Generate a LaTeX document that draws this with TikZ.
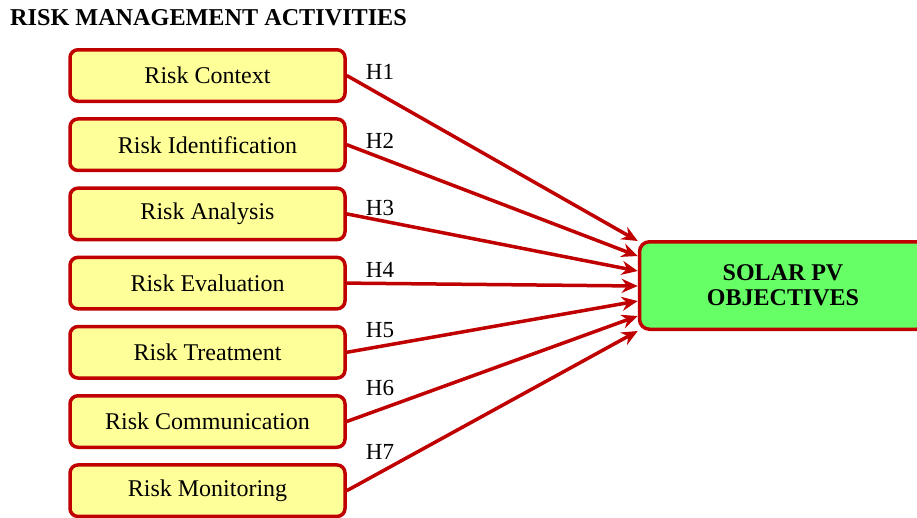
\documentclass[tikz,border=0pt]{standalone}
\usepackage{fontspec}
\setmainfont{Liberation Serif}
\usetikzlibrary{arrows.meta,calc}

\definecolor{boxred}{HTML}{C00000}
\definecolor{riskfill}{HTML}{FFFF99}
\definecolor{goalfill}{HTML}{66FF66}

\tikzset{
  activity/.style={draw=boxred, fill=riskfill, line width=3.5pt, rounded corners=8pt,
    minimum width=275pt, minimum height=51.5pt, inner sep=0pt,
    font=\fontsize{24}{28}\selectfont},
  goal/.style={draw=boxred, fill=goalfill, line width=3.5pt, rounded corners=10pt,
    minimum width=287pt, minimum height=87.5pt, inner sep=0pt, align=center,
    font=\fontsize{24}{25}\selectfont\bfseries},
  link/.style={draw=boxred, line width=3.5pt, -{Stealth[length=16pt,width=14pt]}},
  hyp/.style={inner sep=0pt, font=\fontsize{23}{26}\selectfont},
}

\begin{document}
\begin{tikzpicture}[x=1pt, y=-1pt]
  \useasboundingbox (0,0) rectangle (917,517);
  \clip (0,0) rectangle (917,517);

  % heading
  \node[anchor=base west, inner sep=0pt, font=\fontsize{24.2}{28}\selectfont\bfseries]
    (title) at (10,25) {RISK MANAGEMENT ACTIVITIES};

  % risk management activities
  \node[activity] (a1) at (207.5, 75.5) {Risk Context};
  \node[activity] (a2) at (207.5,144.7) {Risk Identification};
  \node[activity] (a3) at (207.5,213.9) {Risk Analysis};
  \node[activity] (a4) at (207.5,283.1) {Risk Evaluation};
  \node[activity] (a5) at (207.5,352.3) {Risk Treatment};
  \node[activity] (a6) at (207.5,421.5) {Risk Communication};
  \node[activity] (a7) at (207.5,490.7) {Risk Monitoring};

  % objectives
  \node[goal] (obj) at (783,285.5) {SOLAR PV\\OBJECTIVES};

  % arrival points along the left side of the objectives box
  \coordinate (e1) at ($(obj.west)+(0,-44.5)$);
  \coordinate (e2) at ($(obj.west)+(0,-29.5)$);
  \coordinate (e3) at ($(obj.west)+(0,-14.5)$);
  \coordinate (e4) at ($(obj.west)+(0,0.5)$);
  \coordinate (e5) at ($(obj.west)+(0,15.5)$);
  \coordinate (e6) at ($(obj.west)+(0,30.5)$);
  \coordinate (e7) at ($(obj.west)+(0,45.5)$);

  % hypotheses
  \draw[link] (a1.east) -- (e1);
  \draw[link] (a2.east) -- (e2);
  \draw[link] (a3.east) -- (e3);
  \draw[link] (a4.east) -- (e4);
  \draw[link] (a5.east) -- (e5);
  \draw[link] (a6.east) -- (e6);
  \draw[link] (a7.east) -- (e7);

  \node[hyp] (h1) at (380, 72) {H1};
  \node[hyp] (h2) at (380,141) {H2};
  \node[hyp] (h3) at (380,208) {H3};
  \node[hyp] (h4) at (380,270) {H4};
  \node[hyp] (h5) at (380,330) {H5};
  \node[hyp] (h6) at (380,388) {H6};
  \node[hyp] (h7) at (380,452) {H7};
\end{tikzpicture}
\end{document}
